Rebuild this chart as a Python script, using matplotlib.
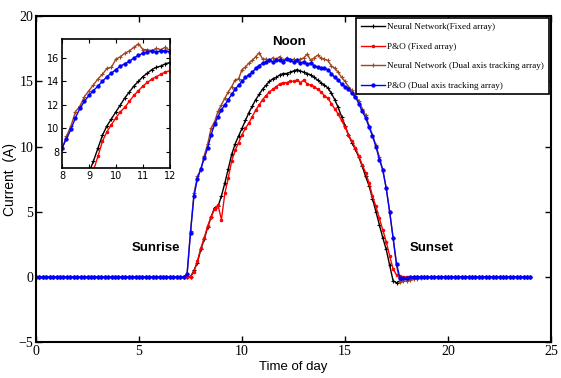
import numpy as np
import matplotlib
matplotlib.use('Agg')
import matplotlib.pyplot as plt

# samples every 10 minutes over the day
hours = np.arange(0, 145) / 6.0

# values from 7:00 to 19:00 (73 samples), zero outside
start = 42

nn_fixed = [0, 0, 0, 0, 0.5, 1.1, 2.1, 2.9, 3.8, 4.6,
            5.3, 5.4, 6.2, 7.2, 8.3, 9.4, 10.2, 10.8, 11.4, 12.0,
            12.6, 13.1, 13.6, 14.0, 14.4, 14.7, 15.0, 15.2, 15.3, 15.5,
            15.6, 15.6, 15.7, 15.8, 15.9, 15.8, 15.7, 15.6, 15.5, 15.3,
            15.1, 14.9, 14.7, 14.5, 14.1, 13.6, 13.0, 12.3, 11.6, 10.9,
            10.3, 9.8, 9.2, 8.5, 7.7, 7.0, 6.0, 5.0, 4.0, 3.0,
            2.1, 0.9, -0.3, -0.45, -0.3, -0.2, -0.15, -0.1, -0.05, 0,
            0, 0, 0]

po_fixed = [0, 0, 0, 0, 0.4, 1.2, 2.2, 3.0, 3.9, 4.6,
            5.2, 5.5, 4.4, 6.4, 7.6, 8.9, 9.7, 10.3, 10.9, 11.4,
            11.8, 12.3, 12.8, 13.2, 13.6, 13.9, 14.2, 14.4, 14.6, 14.8,
            14.9, 14.9, 15.0, 15.0, 15.1, 14.9, 15.1, 14.8, 14.7, 14.6,
            14.4, 14.2, 13.9, 13.7, 13.3, 12.9, 12.5, 12.0, 11.5, 10.9,
            10.4, 9.9, 9.3, 8.6, 8.0, 7.2, 6.2, 5.4, 4.5, 3.6,
            2.7, 1.6, 0.6, 0.15, 0.05, 0, 0, 0, 0, 0,
            0, 0, 0]

nn_dual = [0, 0, 0.2, 3.5, 6.4, 7.7, 8.2, 9.3, 10.2, 11.4,
           11.9, 12.7, 13.2, 13.7, 14.2, 14.6, 15.1, 15.2, 15.9, 16.1,
           16.4, 16.6, 16.9, 17.2, 16.7, 16.7, 16.6, 16.8, 16.7, 16.9,
           16.6, 16.8, 16.6, 16.7, 16.6, 16.7, 16.8, 17.1, 16.6, 16.8,
           17.0, 16.8, 16.7, 16.6, 16.2, 16.0, 15.7, 15.3, 15.0, 14.6,
           14.3, 13.9, 13.5, 12.9, 12.4, 11.6, 10.9, 10.1, 9.2, 8.2,
           6.8, 5.0, 3.0, 0.9, -0.4, -0.35, -0.3, -0.25, -0.2, -0.15,
           -0.1, -0.05, 0]

po_dual = [0, 0, 0.2, 3.4, 6.2, 7.5, 8.3, 9.1, 9.9, 10.9,
           11.7, 12.3, 12.8, 13.2, 13.6, 14.0, 14.4, 14.7, 15.0, 15.3,
           15.5, 15.7, 16.0, 16.2, 16.4, 16.5, 16.6, 16.5, 16.6, 16.6,
           16.5, 16.7, 16.6, 16.5, 16.6, 16.4, 16.5, 16.3, 16.4, 16.2,
           16.1, 16.0, 16.0, 15.9, 15.6, 15.3, 15.1, 14.8, 14.6, 14.4,
           14.1, 13.8, 13.3, 12.7, 12.2, 11.5, 10.8, 10.0, 9.0, 8.2,
           6.8, 5.0, 3.0, 1.0, -0.1, -0.1, -0.1, -0.05, 0, 0,
           0, 0, 0]

labels = ['Neural Network(Fixed array)', 'P&O (Fixed array)',
          'Neural Network (Dual axis tracking array)', 'P&O (Dual axis tracking array)']
colors = ['black', 'red', '#A0461E', 'blue']
markers = ['+', '.', '+', 'o']
msizes = [3, 3.5, 3, 2.3]


def full_day(vals):
    s = np.zeros(len(hours))
    s[start:start + len(vals)] = vals
    return s


series = [full_day(v) for v in (nn_fixed, po_fixed, nn_dual, po_dual)]

fig = plt.figure(figsize=(5.61, 3.78), dpi=100)
ax = fig.add_axes([0.0642, 0.0952, 0.918, 0.862])

for s, c, m, ms, lab in zip(series, colors, markers, msizes, labels):
    ax.plot(hours, s, color=c, marker=m, markersize=ms, lw=1, mew=0.8, label=lab)

ax.set_xlim(0, 25)
ax.set_ylim(-5, 20)
ax.set_xticks([0, 5, 10, 15, 20, 25])
ax.set_yticks([-5, 0, 5, 10, 15, 20])
ax.tick_params(direction='in', top=True, right=True, length=4, width=1,
               labelsize=10, pad=2)
for lab in ax.get_xticklabels() + ax.get_yticklabels():
    lab.set_family('Liberation Serif')
for sp in ax.spines.values():
    sp.set_linewidth(1.5)

ax.set_xlabel('Time of day', family='Liberation Sans', fontsize=9.5, labelpad=2)
ax.set_ylabel('Current  (A)', family='Liberation Sans', fontsize=10)
ax.yaxis.set_label_coords(-0.036, 0.5)

ax.text(12.3, 18.0, 'Noon', ha='center', va='center', fontsize=9.5,
        fontweight='bold', family='Liberation Sans')
ax.text(5.8, 2.2, 'Sunrise', ha='center', va='center', fontsize=9.5,
        fontweight='bold', family='Liberation Sans')
ax.text(19.2, 2.2, 'Sunset', ha='center', va='center', fontsize=9.5,
        fontweight='bold', family='Liberation Sans')

leg = ax.legend(loc='upper right', prop={'family': 'Liberation Serif', 'size': 6.6},
                fancybox=False, framealpha=1, edgecolor='black',
                borderaxespad=0.25, handlelength=2.6, labelspacing=1.2,
                borderpad=0.5, handletextpad=0.3)
leg.get_frame().set_linewidth(1.2)

# inset zoom of the morning
ins = fig.add_axes([0.1105, 0.5556, 0.1925, 0.341])
for s, c, m, ms in zip(series, colors, markers, msizes):
    ins.plot(hours, s, color=c, marker=m, markersize=ms, lw=1, mew=0.8)
ins.set_xlim(8, 12)
ins.set_ylim(6.6, 17.6)
ins.set_xticks([8, 9, 10, 11, 12])
ins.set_yticks([8, 10, 12, 14, 16])
ins.tick_params(direction='in', top=True, right=True, length=3, width=0.8,
                labelsize=7, pad=2)
for sp in ins.spines.values():
    sp.set_linewidth(1.2)

fig.savefig('out.png', dpi=100)
